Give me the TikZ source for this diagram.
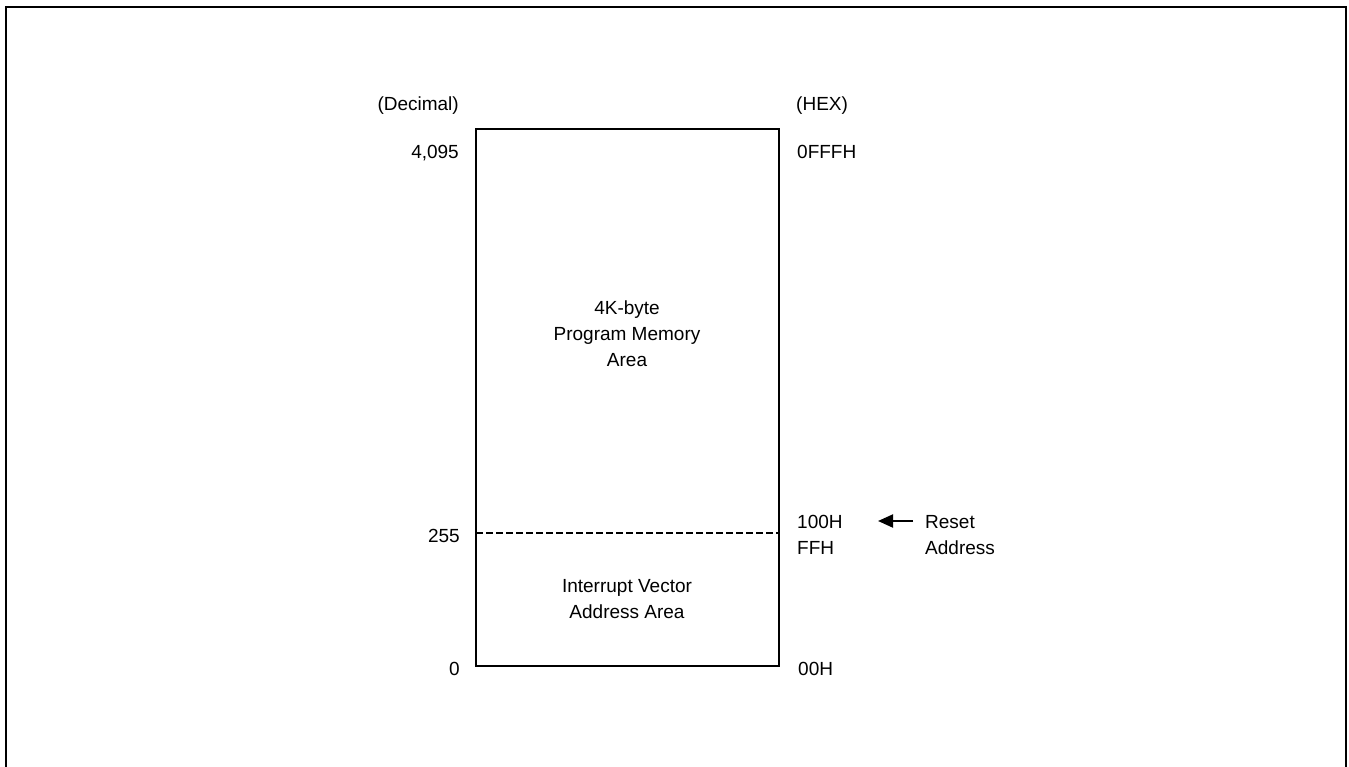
\documentclass[tikz,border=0pt]{standalone}
\usepackage{fontspec}
\setmainfont{Liberation Sans}
\usetikzlibrary{arrows.meta}
\begin{document}
\begin{tikzpicture}[x=1pt,y=-1pt,
  lbl/.style={inner sep=0pt,font=\fontsize{19}{26}\selectfont},
  lblR/.style={lbl,anchor=base east},
  lblL/.style={lbl,anchor=base west},
  lblC/.style={lbl,anchor=base,align=center},
  frameline/.style={line width=2.4pt},
  boxline/.style={line width=1.6pt},
  dashline/.style={line width=2.1pt,dash pattern=on 6.5pt off 3.5pt},
  arr/.style={line width=2pt,-{Triangle[length=15pt,width=13pt]}}]
\useasboundingbox (0,0) rectangle (1349,767);
% outer frame (open at the bottom)
\coordinate (fbl) at (6,767);
\coordinate (ftl) at (6,7);
\coordinate (ftr) at (1346,7);
\coordinate (fbr) at (1346,767);
\draw[frameline] (fbl) -- (ftl) -- (ftr) -- (fbr);
% memory box
\coordinate (btl) at (476,129);
\coordinate (bbr) at (779,666);
\draw[boxline] (btl) rectangle (bbr);
\coordinate (dl) at (476,533);
\coordinate (dr) at (779,533);
\draw[dashline] (dl) -- (dr);
% decimal labels
\node[lblR] (dec) at (459,111) {(Decimal)};
\node[lblR] (d4095) at (459,159) {4,095};
\node[lblR] (d255) at (460,542) {255};
\node[lblR] (d0) at (460,675) {0};
% hex labels
\node[lblL] (hex) at (796,111) {(HEX)};
\node[lblL] (h0fff) at (797,159) {0FFFH};
\node[lblL] (h100) at (797,528) {100H};
\node[lblL] (hff) at (797,554) {FFH};
\node[lblL] (h00) at (798,675) {00H};
% reset address
\node[lblL] (reset) at (925,528) {Reset};
\node[lblL] (raddr) at (925,554) {Address};
\coordinate (atail) at (913,521);
\coordinate (ahead) at (878,521);
\draw[arr] (atail) -- (ahead);
% area labels
\node[lblC] (pm1) at (627,314) {4K-byte};
\node[lblC] (pm2) at (627,340) {Program Memory};
\node[lblC] (pm3) at (627,366) {Area};
\node[lblC] (iv1) at (627,592) {Interrupt Vector};
\node[lblC] (iv2) at (627,618) {Address Area};
\end{tikzpicture}
\end{document}
